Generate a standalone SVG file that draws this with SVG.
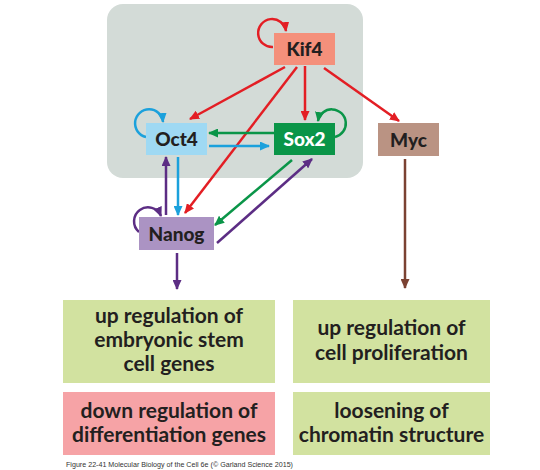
<svg xmlns="http://www.w3.org/2000/svg" width="540" height="470" viewBox="0 0 540 470">
<defs>
<style>
.node text{font-family:Lato,"Open Sans","Liberation Sans",sans-serif;font-weight:900;font-size:19px;text-anchor:middle;fill:#231f20}
.box text{font-family:Lato,"Open Sans","Liberation Sans",sans-serif;font-weight:bold;font-size:21px;text-anchor:middle;fill:#231f20}
.c line,.c path{fill:none;stroke-width:2.5}
.red{stroke:#e31e24}
.blue{stroke:#1ba1dc}
.green{stroke:#0a9548}
.purple{stroke:#5c2d84}
.brown{stroke:#7b4232}
</style>
<marker id="mr" viewBox="0 0 10 9" refX="9" refY="4.5" markerWidth="10" markerHeight="9" markerUnits="userSpaceOnUse" orient="auto"><path d="M0,0 L10,4.5 L0,9 z" fill="#e31e24"/></marker>
<marker id="mb" viewBox="0 0 10 9" refX="9" refY="4.5" markerWidth="10" markerHeight="9" markerUnits="userSpaceOnUse" orient="auto"><path d="M0,0 L10,4.5 L0,9 z" fill="#1ba1dc"/></marker>
<marker id="mg" viewBox="0 0 10 9" refX="9" refY="4.5" markerWidth="10" markerHeight="9" markerUnits="userSpaceOnUse" orient="auto"><path d="M0,0 L10,4.5 L0,9 z" fill="#0a9548"/></marker>
<marker id="mp" viewBox="0 0 10 9" refX="9" refY="4.5" markerWidth="10" markerHeight="9" markerUnits="userSpaceOnUse" orient="auto"><path d="M0,0 L10,4.5 L0,9 z" fill="#5c2d84"/></marker>
<marker id="mn" viewBox="0 0 10 9" refX="9" refY="4.5" markerWidth="10" markerHeight="9" markerUnits="userSpaceOnUse" orient="auto"><path d="M0,0 L10,4.5 L0,9 z" fill="#7b4232"/></marker>
</defs>
<rect x="0" y="0" width="540" height="470" fill="#ffffff"/>
<rect id="core" x="107" y="4" width="256" height="174" rx="16" fill="#d3dbd7"/>

<g id="connectors" class="c">
<path class="red" d="M273,47 A14,14 0 1 1 286,31" marker-end="url(#mr)"/>
<path class="blue" d="M146,137 A14,14 0 1 1 163,122" marker-end="url(#mb)"/>
<path class="green" d="M335,137 A14,14 0 1 0 318,121" marker-end="url(#mg)"/>
<path class="purple" d="M139,232 A14,14 0 1 1 161,216" marker-end="url(#mp)"/>
<line class="red" x1="285" y1="67" x2="190" y2="119" marker-end="url(#mr)"/>
<line class="red" x1="297" y1="67" x2="185" y2="213" marker-end="url(#mr)"/>
<line class="red" x1="305" y1="66" x2="305" y2="120" marker-end="url(#mr)"/>
<line class="red" x1="324" y1="68" x2="399" y2="121" marker-end="url(#mr)"/>
<line class="green" x1="274" y1="133" x2="209" y2="133" marker-end="url(#mg)"/>
<line class="blue" x1="209" y1="146" x2="269" y2="146" marker-end="url(#mb)"/>
<line class="blue" x1="178" y1="157" x2="178" y2="215" marker-end="url(#mb)"/>
<line class="purple" x1="166" y1="215" x2="166" y2="157" marker-end="url(#mp)"/>
<line class="green" x1="292" y1="160" x2="215" y2="225" marker-end="url(#mg)"/>
<line class="purple" x1="217" y1="243" x2="312" y2="159" marker-end="url(#mp)"/>
<line class="purple" x1="177" y1="253" x2="177" y2="289" marker-end="url(#mp)"/>
<line class="brown" x1="405" y1="159" x2="405" y2="288" marker-end="url(#mn)"/>
</g>

<g id="kif4" class="node"><rect x="274" y="33" width="61" height="32" fill="#f4907b"/><text x="304.5" y="56">Kif4</text></g>
<g id="oct4" class="node"><rect x="146" y="123" width="61" height="32" fill="#9fd9f3"/><text x="176.5" y="146">Oct4</text></g>
<g id="sox2" class="node"><rect x="274" y="123" width="61" height="32" fill="#0a9548"/><text x="304.5" y="146" style="fill:#ffffff">Sox2</text></g>
<g id="myc" class="node"><rect x="378" y="123" width="61" height="33" fill="#ba9383"/><text x="408.5" y="146.5">Myc</text></g>
<g id="nanog" class="node"><rect x="139" y="217" width="75" height="33" fill="#ab93c3"/><text x="176.5" y="240.5">Nanog</text></g>

<g id="es-genes" class="box"><rect x="63" y="300" width="212" height="83" fill="#d2e2a0"/><text x="169" y="323">up regulation of</text><text x="169" y="347">embryonic stem</text><text x="169" y="371">cell genes</text></g>
<g id="proliferation" class="box"><rect x="293" y="300" width="197" height="83" fill="#d2e2a0"/><text x="391.5" y="335">up regulation of</text><text x="391.5" y="360">cell proliferation</text></g>
<g id="differentiation" class="box"><rect x="63" y="392" width="212" height="63" fill="#f6a3a6"/><text x="169" y="418">down regulation of</text><text x="169" y="442">differentiation genes</text></g>
<g id="chromatin" class="box"><rect x="293" y="392" width="197" height="63" fill="#d2e2a0"/><text x="391.5" y="418">loosening of</text><text x="391.5" y="442">chromatin structure</text></g>

<text x="66" y="467" font-family="Liberation Sans,sans-serif" font-size="7" fill="#333333" textLength="227" lengthAdjust="spacingAndGlyphs">Figure 22-41  Molecular Biology of the Cell 6e (© Garland Science 2015)</text>
</svg>
